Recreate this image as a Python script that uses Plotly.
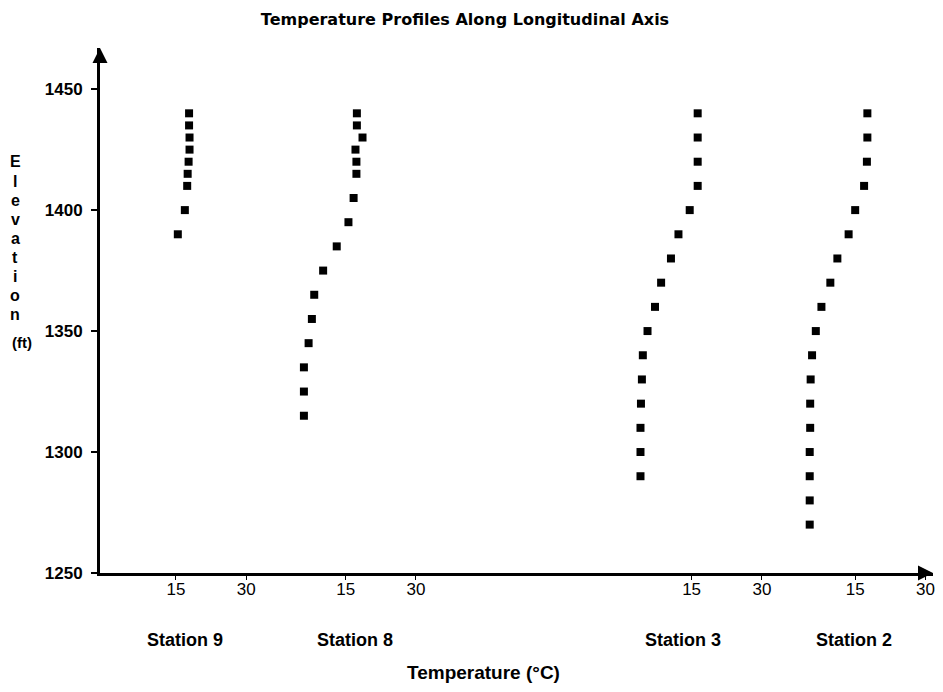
import plotly.graph_objects as go

# ---------------- data ----------------
stations = ["Station 9", "Station 8", "Station 3", "Station 2"]

station9_temp = [17.8, 17.8, 17.9, 17.9, 17.7, 17.5, 17.4, 16.9, 15.4]
station9_elev = [1440, 1435, 1430, 1425, 1420, 1415, 1410, 1400, 1390]

station8_temp = [17.4, 17.4, 18.6, 17.1, 17.3, 17.3, 16.7, 15.6, 13.1, 10.2,
                 8.3, 7.8, 7.1, 6.1, 6.1, 6.1]
station8_elev = [1440, 1435, 1430, 1425, 1420, 1415, 1405, 1395, 1385, 1375,
                 1365, 1355, 1345, 1335, 1325, 1315]

station3_temp = [16.3, 16.3, 16.3, 16.3, 14.6, 12.2, 10.6, 8.5, 7.2, 5.6,
                 4.6, 4.4, 4.2, 4.1, 4.1, 4.1]
station3_elev = [1440, 1430, 1420, 1410, 1400, 1390, 1380, 1370, 1360, 1350,
                 1340, 1330, 1320, 1310, 1300, 1290]

station2_temp = [17.6, 17.6, 17.5, 16.9, 15.0, 13.6, 11.2, 9.7, 7.8, 6.6,
                 5.8, 5.5, 5.4, 5.4, 5.3, 5.3, 5.3, 5.3]
station2_elev = [1440, 1430, 1420, 1410, 1400, 1390, 1380, 1370, 1360, 1350,
                 1340, 1330, 1320, 1310, 1300, 1290, 1280, 1270]

temp_ticks = [15, 30]
elev_ticks = [1250, 1300, 1350, 1400, 1450]

# layout: where each station's temperature scale starts on the shared axis
station_offsets = [0.0, 36.2, 110.0, 144.9]
station_label_x = [17.0, 53.1, 123.1, 159.6]

temps = [station9_temp, station8_temp, station3_temp, station2_temp]
elevs = [station9_elev, station8_elev, station3_elev, station2_elev]

FONT = "Liberation Sans, Arial, sans-serif"
W, H = 935, 684          # page body adds an 8px offset
L, R, T, B = 92, 8, 40, 119
PW, PH = W - L - R, H - T - B


def px(xs):   # page x (reference frame) -> paper x
    return (xs - 8 - L) / PW


def py(ys):   # page y (reference frame) -> paper y
    return 1 - (ys - 8 - T) / PH


fig = go.Figure()
for name, off, t, e in zip(stations, station_offsets, temps, elevs):
    fig.add_trace(go.Scatter(
        x=[off + v for v in t], y=e, mode="markers", name=name,
        marker=dict(symbol="square", size=8, color="black"),
        showlegend=False,
    ))

tickvals = [off + v for off in station_offsets for v in temp_ticks]
ticktext = [str(v) for off in station_offsets for v in temp_ticks]

annotations = []
for name, lx in zip(stations, station_label_x):
    annotations.append(dict(
        x=lx, y=py(640), xref="x", yref="paper", text=name,
        showarrow=False, xanchor="center", yanchor="middle",
        font=dict(family=FONT, size=18, color="black", weight="bold"),
    ))
annotations.append(dict(
    x=px(484), y=py(672), xref="paper", yref="paper",
    text="Temperature (°C)", showarrow=False, xanchor="center", yanchor="middle",
    font=dict(family=FONT, size=19, color="black", weight="bold"),
))
for i, ch in enumerate("Elevation"):
    annotations.append(dict(
        x=px(15), y=py(162 + 19.1 * i), xref="paper", yref="paper",
        text=ch, showarrow=False, xanchor="center", yanchor="middle",
        font=dict(family=FONT, size=16, color="black", weight="bold"),
    ))
annotations.append(dict(
    x=px(22), y=py(342), xref="paper", yref="paper", text="(ft)",
    showarrow=False, xanchor="center", yanchor="middle",
    font=dict(family=FONT, size=15, color="black", weight="bold"),
))
# axis arrows
annotations.append(dict(x=0, y=1, xref="paper", yref="paper", ax=0, ay=14,
                        text="", showarrow=True, arrowhead=2, arrowsize=1,
                        arrowwidth=3, arrowcolor="black"))
annotations.append(dict(x=1, y=0, xref="paper", yref="paper", ax=-14, ay=0,
                        text="", showarrow=True, arrowhead=2, arrowsize=1,
                        arrowwidth=3, arrowcolor="black"))

fig.update_layout(
    width=W, height=H,
    margin=dict(l=L, r=R, t=T, b=B),
    paper_bgcolor="white", plot_bgcolor="white",
    title=dict(text="Temperature Profiles Along Longitudinal Axis",
               x=(465 - 8) / W, xanchor="center", y=1 - (19 - 8) / H, yanchor="middle",
               font=dict(family="DejaVu Sans, sans-serif", size=16, color="black",
                         weight="bold")),
    xaxis=dict(range=[-1.2, 176.5], showline=True, linecolor="black", linewidth=3,
               ticks="outside", ticklen=4, tickcolor="black", tickwidth=1,
               tickvals=tickvals, ticktext=ticktext, showgrid=False, zeroline=False,
               ticklabelstandoff=-5,
               tickfont=dict(family=FONT, size=17, color="black")),
    yaxis=dict(range=[1250, 1467], showline=True, linecolor="black", linewidth=3,
               ticks="outside", ticklen=6, tickcolor="black", tickwidth=2,
               tickvals=elev_ticks, showgrid=False, zeroline=False,
               ticklabelstandoff=5,
               tickfont=dict(family=FONT, size=17, color="black", weight="bold")),
    annotations=annotations,
)

fig.write_html("out.html")
